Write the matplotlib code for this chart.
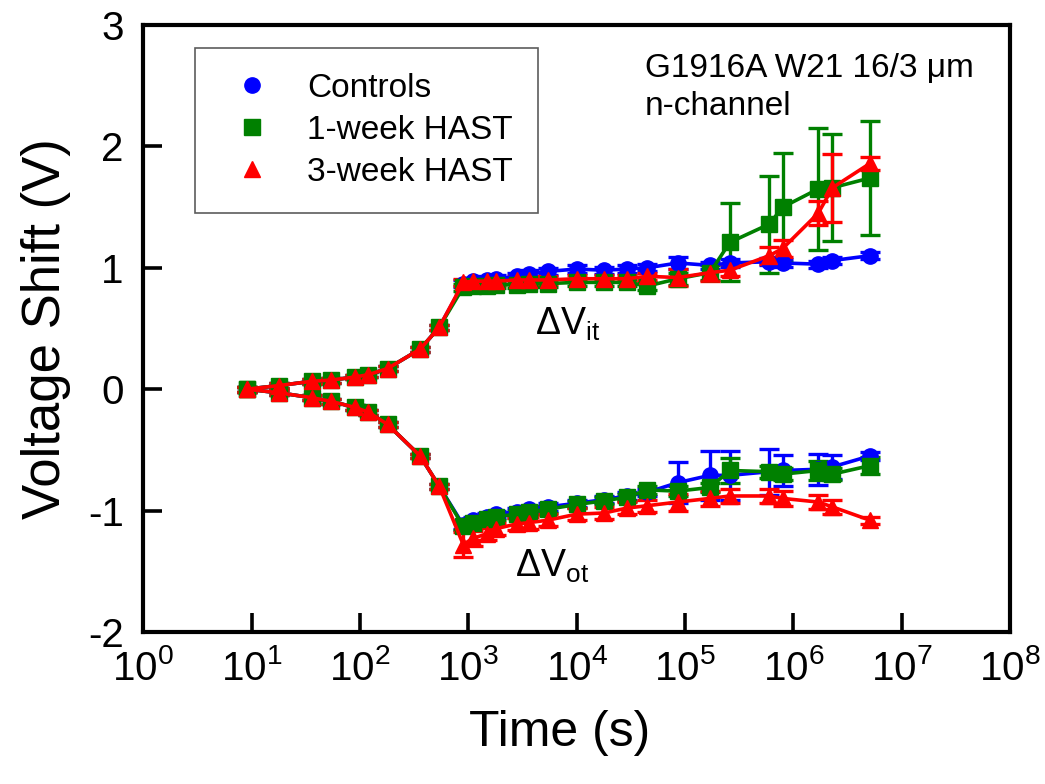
import numpy as np
import matplotlib
matplotlib.use("Agg")
import matplotlib.pyplot as plt
from matplotlib.lines import Line2D

plt.rcParams['font.family'] = ['Liberation Sans', 'DejaVu Sans']
plt.rcParams['mathtext.fontset'] = 'custom'
plt.rcParams['mathtext.rm'] = 'Liberation Sans'
plt.rcParams['mathtext.it'] = 'Liberation Sans'

# stress time (s)
time_s = [9, 18, 36, 54, 90, 120, 180, 360, 540, 900, 1100, 1500, 1800, 2800,
          3600, 5400, 1.0e4, 1.8e4, 2.9e4, 4.5e4, 8.6e4, 1.7e5, 2.6e5, 6.0e5,
          8.0e5, 1.7e6, 2.3e6, 5.1e6]

# interface-trap shift (upper branch)
ctrl_it = [0.0, 0.03, 0.065, 0.075, 0.10, 0.12, 0.17, 0.33, 0.51,
           0.87, 0.89, 0.90, 0.91, 0.93, 0.95, 0.97, 0.99, 0.98, 0.99,
           1.00, 1.04, 1.02, 1.04, 1.05, 1.04, 1.03, 1.06, 1.10]
wk1_it = [0.0, 0.03, 0.065, 0.075, 0.10, 0.12, 0.17, 0.33, 0.51,
          0.84, 0.85, 0.85, 0.86, 0.86, 0.87, 0.87, 0.88, 0.88, 0.88,
          0.85, 0.91, 0.96, 1.21, 1.36, 1.50, 1.65, 1.66, 1.74]
wk3_it = [0.0, 0.03, 0.065, 0.075, 0.10, 0.12, 0.17, 0.33, 0.51,
          0.88, 0.89, 0.89, 0.89, 0.90, 0.90, 0.90, 0.91, 0.91, 0.91,
          0.93, 0.92, 0.96, 0.98, 1.10, 1.16, 1.45, 1.66, 1.86]

ctrl_it_err = [0.02] * 9 + [0.03] * 11 + [0.05, 0.03, 0.03, 0.03, 0.03, 0.03, 0.03, 0.03]
wk1_it_err = [0.02] * 9 + [0.03] * 11 + [0.05, 0.06, 0.32, 0.40, 0.45, 0.50, 0.44, 0.47]
wk3_it_err = [0.02] * 9 + [0.03] * 11 + [0.07, 0.07, 0.05, 0.07, 0.07, 0.10, 0.28, 0.05]

# oxide-trap shift (lower branch)
ctrl_ot = [0.0, -0.03, -0.07, -0.10, -0.15, -0.19, -0.29, -0.55, -0.80,
           -1.12, -1.08, -1.05, -1.03, -1.01, -0.99, -0.97, -0.94, -0.91,
           -0.88, -0.85, -0.77, -0.71, -0.71, -0.68, -0.67, -0.66, -0.64, -0.55]
wk1_ot = [0.0, -0.03, -0.07, -0.10, -0.15, -0.19, -0.29, -0.55, -0.80,
          -1.13, -1.10, -1.07, -1.05, -1.03, -1.01, -0.99, -0.95, -0.92,
          -0.89, -0.83, -0.84, -0.81, -0.67, -0.68, -0.70, -0.67, -0.70, -0.63]
wk3_ot = [0.0, -0.03, -0.07, -0.10, -0.15, -0.19, -0.29, -0.55, -0.80,
          -1.28, -1.23, -1.19, -1.15, -1.11, -1.10, -1.08, -1.03, -1.02,
          -0.98, -0.96, -0.93, -0.90, -0.88, -0.88, -0.90, -0.93, -0.97, -1.08]

ctrl_ot_err = [0.02] * 9 + [0.03] * 11 + [0.17, 0.20, 0.20, 0.19, 0.13, 0.13, 0.10, 0.03]
wk1_ot_err = [0.02] * 9 + [0.03] * 11 + [0.04, 0.04, 0.10, 0.05, 0.05, 0.08, 0.05, 0.07]
wk3_ot_err = [0.02] * 9 + [0.10, 0.06, 0.05, 0.05, 0.05, 0.05, 0.05, 0.05, 0.05, 0.05, 0.05,
                           0.07, 0.06, 0.06, 0.06, 0.06, 0.06, 0.06, 0.03]

labels = ['Controls', '1-week HAST', '3-week HAST']
colors = ['#0000ff', '#008000', '#ff0000']
markers = ['o', 's', '^']

fig = plt.figure(figsize=(10.45, 7.84), dpi=100)
ax = fig.add_axes([0.137, 0.194, 0.8295, 0.774])

series = [(ctrl_it, ctrl_it_err, ctrl_ot, ctrl_ot_err),
          (wk1_it, wk1_it_err, wk1_ot, wk1_ot_err),
          (wk3_it, wk3_it_err, wk3_ot, wk3_ot_err)]

for (it, it_err, ot, ot_err), c, m in zip(series, colors, markers):
    for y, e in ((it, it_err), (ot, ot_err)):
        ax.errorbar(time_s, y, yerr=e, color=c, marker=m, markersize=11,
                    linewidth=2.6, elinewidth=2.4, capsize=7, capthick=2.4)

ax.set_xscale('log')
ax.set_xlim(1, 1e8)
ax.set_ylim(-2, 3)
ax.set_xticks([10.0 ** k for k in range(9)])
ax.set_xticklabels(['$10^{%d}$' % k for k in range(9)])
ax.minorticks_off()
ax.set_yticks([-2, -1, 0, 1, 2, 3])
ax.set_yticklabels(['-2', '-1', '0', '1', '2', '3'])

for s in ax.spines.values():
    s.set_linewidth(3)
ax.tick_params(axis='both', direction='in', length=14, width=2.6,
               labelsize=29, top=False, right=False)
ax.tick_params(axis='x', pad=12)
ax.tick_params(axis='y', pad=14)

ax.set_xlabel('Time (s)', fontsize=36)
ax.xaxis.set_label_coords(0.48, -0.128)
ax.set_ylabel('Voltage Shift (V)', fontsize=38, labelpad=12)

handles = [Line2D([], [], color=c, marker=m, linestyle='none', markersize=11)
           for c, m in zip(colors, markers)]
leg = ax.legend(handles, labels, loc='upper left', bbox_to_anchor=(0.06, 0.962),
                borderaxespad=0, fancybox=False, edgecolor='#333333',
                fontsize=24, handletextpad=0.7, borderpad=0.75, labelspacing=0.33,
                handlelength=1.9)
leg.get_frame().set_linewidth(1.2)

ax.text(0.579, 0.914, 'G1916A W21 16/3 \u03bcm', transform=ax.transAxes,
        fontsize=24, va='baseline')
ax.text(0.579, 0.852, 'n-channel', transform=ax.transAxes,
        fontsize=24, va='baseline')
ax.text(0.452, 0.489, r'$\Delta\mathrm{V}_{\mathrm{it}}$', transform=ax.transAxes,
        fontsize=27, va='baseline')
ax.text(0.429, 0.091, r'$\Delta\mathrm{V}_{\mathrm{ot}}$', transform=ax.transAxes,
        fontsize=27, va='baseline')

fig.savefig('out.png', dpi=100)
